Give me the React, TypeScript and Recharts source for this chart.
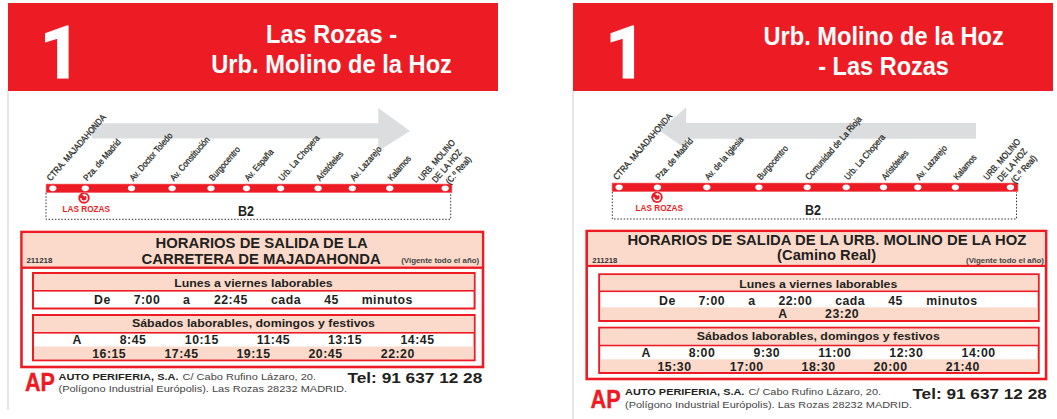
import { ReferenceArea, Scatter, ScatterChart, XAxis, YAxis } from "recharts";

const RED = "#ED1C24";
const PINK = "#FBDACB";
const GREY = "#DCDDDE";
const INK = "#231F20";
const SANS = "'Liberation Sans', Arial, sans-serif";
const NUMERAL = "Roboto, 'Liberation Sans', sans-serif";

// stops, position along the route band
const outboundStops = ["CTRA. MAJADAHONDA", "Pza. de Madrid", "Av. Doctor Toledo", "Av. Constitución", "Burgocentro", "Av. España", "Urb. La Chopera", "Aristóteles", "Av. Lazarejo", "Kalamos", "URB. MOLINO|DE LA HOZ|(C.º Real)"];
const outboundPos = [6.8, 39.3, 85.5, 126.1, 165, 200.5, 234.6, 272.1, 306.3, 343.8, 399.2];
const inboundStops = ["CTRA. MAJADAHONDA", "Pza. de Madrid", "Av. de la Iglesia", "Burgocentro", "Comunidad de La Rioja", "Urb. La Chopera", "Aristóteles", "Av. Lazarejo", "Kalamos", "URB. MOLINO|DE LA HOZ|(C.º Real)"];
const inboundPos = [7.1, 45.4, 94.8, 146.9, 195.2, 234.2, 271.5, 305.8, 343.4, 398.5];

const weekdayOut = ["De", "7:00", "a", "22:45", "cada", "45", "minutos"];
const weekendOut1 = ["A", "8:45", "10:15", "11:45", "13:15", "14:45"];
const weekendOut2 = ["16:15", "17:45", "19:15", "20:45", "22:20"];
const weekdayIn = ["De", "7:00", "a", "22:00", "cada", "45", "minutos"];
const weekdayIn2 = ["A", "23:20"];
const weekendIn1 = ["A", "8:00", "9:30", "11:00", "12:30", "14:00"];
const weekendIn2 = ["15:30", "17:00", "18:30", "20:00", "21:40"];

function T({ x, y, s, w, b = true, c = INK, a = "middle", f = SANS, children, heavy = 0 }: any) {
  return (
    <text x={x} y={y} fontSize={s} fontWeight={b ? 700 : 400} fill={c} textAnchor={a} fontFamily={f} textLength={w} lengthAdjust={w ? "spacingAndGlyphs" : undefined} stroke={heavy ? c : "none"} strokeWidth={heavy}>
      {children}
    </text>
  );
}

function Row({ xs, labels, y }: { xs: number[]; labels: string[]; y: number }) {
  return (
    <>
      {labels.map((l, i) => (
        <text key={i} x={xs[i]} y={y} fontSize={12.3} fontWeight={700} letterSpacing={0.5} fill={INK} textAnchor="middle" fontFamily={SANS}>
          {l}
        </text>
      ))}
    </>
  );
}

function StopTick({ x, payload, stops, pos }: any) {
  const i = pos.indexOf(payload.value);
  const lines: string[] = (stops[i] ?? "").split("|");
  const footY = 83.5;
  const dx = lines.length > 1 ? -23 : i === 0 ? -2 : 2;
  return (
    <g transform={`translate(${x + dx},${footY}) rotate(-49) scale(0.86,1)`}>
      {lines.map((line, k) => (
        <text key={k} x={k * 9} y={k * 11.5} fontSize={9} fill={INK} stroke={INK} strokeWidth={0.25} fontFamily={SANS}>
          {line}
        </text>
      ))}
    </g>
  );
}

function RouteChart({ left, top, stops, pos }: { left: number; top: number; stops: string[]; pos: number[] }) {
  const data = pos.map((p) => ({ p, y: 0.5 }));
  return (
    <div style={{ position: "absolute", left: left - 20, top }}>
      <ScatterChart width={480} height={94.7} margin={{ top: 0, right: 54, bottom: 0, left: 20 }}>
        <XAxis
          xAxisId={0}
          type="number"
          dataKey="p"
          orientation="top"
          height={86}
          domain={[0, 406]}
          ticks={pos}
          interval={0}
          axisLine={false}
          tickLine={false}
          tick={(props: any) => <StopTick {...props} stops={stops} pos={pos} />}
        />
        <YAxis yAxisId={0} type="number" dataKey="y" domain={[0, 1]} hide />
        <ReferenceArea x1={0} x2={406} y1={0} y2={1} fill={RED} fillOpacity={1} stroke="#F58A8E" strokeWidth={0.6} />
        <Scatter
          data={data}
          isAnimationActive={false}
          shape={(props: any) => <ellipse cx={props.cx} cy={props.cy} rx={3.6} ry={2.8} fill="#fff" />}
        />
      </ScatterChart>
    </div>
  );
}

function Terminus({ x, y, labelY }: { x: number; y: number; labelY: number }) {
  return (
    <>
      <circle cx={x} cy={y} r={5.7} fill={RED} />
      <path d={`M${x + 0.2} ${y - 3.2} A3.2 3.2 0 1 1 ${x - 3.2} ${y}`} fill="none" stroke="#fff" strokeWidth={1.3} />
      <path d={`M${x - 2} ${y - 3.2} L${x + 1} ${y - 1.2} L${x + 1} ${y - 4.6}Z`} fill="#fff" />
      <T x={x + 2.3} y={labelY} s={8.6} w={47.5} c={RED}>LAS ROZAS</T>
    </>
  );
}

export default function App() {
  return (
    <div style={{ position: "absolute", left: 0, top: 0, width: 1057, height: 419, overflow: "hidden", background: "#fff" }}>
      <svg width={1057} height={419} style={{ position: "absolute", left: 0, top: 0 }}>
        {/* left sheet */}
        <rect x={7.5} y={91} width={1} height={319} fill="#CFCFCF" />
        <rect x={8} y={3} width={490} height={88} fill={RED} />
        <T x={81} y={78.3} s={72} c="#fff" a="end" f={NUMERAL} heavy={1.2}>1</T>
        <T x={331.5} y={43.3} s={25} w={131} c="#fff">Las Rozas -</T>
        <T x={331.6} y={72.7} s={25} w={240.7} c="#fff">Urb. Molino de la Hoz</T>
        <path d="M92 123.3H378.3V108L410 131L378.3 151V138.6H92Z" fill={GREY} />
        <path d="M46 193V219.3H450.7V193" fill="none" stroke="#333" strokeWidth={1} strokeDasharray="1.5 1.7" />
        <Terminus x={84} y={198} labelY={211.7} />
        <T x={246} y={216} s={14} w={16}>B2</T>

        <rect x={21.5} y={232} width={461.5} height={135} fill="#fff" stroke={RED} strokeWidth={2.6} />
        <rect x={22.8} y={233.3} width={458.9} height={33.5} fill={PINK} />
        <rect x={21.5} y={266.5} width={461.5} height={2.4} fill={RED} />
        <T x={261.6} y={248} s={14} w={212}>HORARIOS DE SALIDA DE LA</T>
        <T x={261.1} y={264} s={14} w={239}>CARRETERA DE MAJADAHONDA</T>
        <T x={39.4} y={263} s={6.5} w={26} c="#333">211218</T>
        <T x={440.2} y={263} s={6.5} w={78} c="#444">(Vigente todo el año)</T>

        <rect x={33} y={273} width={441.6} height={35.5} fill="#fff" stroke={RED} strokeWidth={2} />
        <rect x={34} y={274} width={439.6} height={16} fill={PINK} />
        <rect x={33} y={290} width={441.6} height={1.6} fill={RED} />
        <T x={253.5} y={287} s={11.5} w={158.5}>Lunes a viernes laborables</T>
        <Row xs={[102.4, 147, 186.6, 230.9, 286, 331.6, 387.3]} labels={weekdayOut} y={304.3} />

        <rect x={33} y={315} width={441.6} height={45.3} fill="#fff" stroke={RED} strokeWidth={2} />
        <rect x={34} y={316} width={439.6} height={16} fill={PINK} />
        <rect x={33} y={332} width={441.6} height={1.6} fill={RED} />
        <rect x={34} y={346.5} width={439.6} height={12.8} fill={PINK} />
        <T x={253.5} y={327.3} s={11.5} w={243}>Sábados laborables, domingos y festivos</T>
        <Row xs={[77.1, 133.1, 201.8, 273.5, 345, 417.5]} labels={weekendOut1} y={344} />
        <Row xs={[109.2, 181.5, 253.5, 325.5, 397.8]} labels={weekendOut2} y={357.7} />

        <T x={40} y={391.3} s={25.5} w={30} c={RED} heavy={0.4}>AP</T>
        <T x={58.5} y={380} s={9.5} w={120} a="start">AUTO PERIFERIA, S.A.</T>
        <T x={182.5} y={380} s={9.5} w={133.5} a="start" b={false} c="#444">C/ Cabo Rufino Lázaro, 20.</T>
        <T x={58.5} y={392.3} s={9.5} w={288.6} a="start" b={false} c="#444">(Polígono Industrial Európolis). Las Rozas 28232 MADRID.</T>
        <T x={347.5} y={383.3} s={15.5} w={134.8} a="start">Tel: 91 637 12 28</T>

        {/* right sheet */}
        <rect x={572.5} y={91} width={1} height={328} fill="#CFCFCF" />
        <rect x={573} y={3} width={480} height={88} fill={RED} />
        <T x={646.5} y={78.3} s={72} c="#fff" a="end" f={NUMERAL} heavy={1.2}>1</T>
        <T x={883.6} y={45} s={25} w={240.3} c="#fff">Urb. Molino de la Hoz</T>
        <T x={883.6} y={75} s={25} w={130.7} c="#fff">- Las Rozas</T>
        <path d="M976 122.7H686.2V107.3L659.4 130.7L686.2 149V138.7H976Z" fill={GREY} />
        <path d="M612.3 192V219H1016.5V192" fill="none" stroke="#333" strokeWidth={1} strokeDasharray="1.5 1.7" />
        <Terminus x={657} y={197.3} labelY={211} />
        <T x={812.9} y={215} s={14} w={16}>B2</T>

        <rect x={586.7} y={231} width={459.4} height={148} fill="#fff" stroke={RED} strokeWidth={2.6} />
        <rect x={588} y={232.3} width={456.8} height={32.5} fill={PINK} />
        <rect x={586.7} y={264.8} width={459.4} height={2.2} fill={RED} />
        <T x={826.9} y={245} s={14} w={399}>HORARIOS DE SALIDA DE LA URB. MOLINO DE LA HOZ</T>
        <T x={826.6} y={260} s={14} w={99}>(Camino Real)</T>
        <T x={604.8} y={263.3} s={6.5} w={25.2} c="#333">211218</T>
        <T x={1005} y={263} s={6.5} w={78} c="#444">(Vigente todo el año)</T>

        <rect x={599.2} y={274.3} width={439.5} height={46.7} fill="#fff" stroke={RED} strokeWidth={2} />
        <rect x={600.2} y={275.3} width={437.5} height={15.7} fill={PINK} />
        <rect x={599.2} y={290.5} width={439.5} height={1.6} fill={RED} />
        <rect x={600.2} y={307.3} width={437.5} height={12.7} fill={PINK} />
        <T x={818.3} y={287.7} s={11.5} w={158}>Lunes a viernes laborables</T>
        <Row xs={[667.4, 711.8, 751.8, 795.4, 850.2, 895.6, 952]} labels={weekdayIn} y={304.7} />
        <Row xs={[783, 842.1]} labels={weekdayIn2} y={318.3} />

        <rect x={599.2} y={327.7} width={439.5} height={45.3} fill="#fff" stroke={RED} strokeWidth={2} />
        <rect x={600.2} y={328.7} width={437.5} height={16} fill={PINK} />
        <rect x={599.2} y={344.7} width={439.5} height={1.6} fill={RED} />
        <rect x={600.2} y={359.3} width={437.5} height={12.7} fill={PINK} />
        <T x={818.3} y={339.7} s={11.5} w={243}>Sábados laborables, domingos y festivos</T>
        <Row xs={[646.3, 702, 766.9, 834.8, 906.3, 978.6]} labels={weekendIn1} y={357} />
        <Row xs={[674.5, 746.7, 818.6, 890.5, 962.8]} labels={weekendIn2} y={370.7} />

        <T x={605.6} y={408.3} s={25.5} w={30.2} c={RED} heavy={0.4}>AP</T>
        <T x={625.1} y={395.3} s={9.5} w={119.3} a="start">AUTO PERIFERIA, S.A.</T>
        <T x={748.4} y={395.3} s={9.5} w={132.7} a="start" b={false} c="#444">C/ Cabo Rufino Lázaro, 20.</T>
        <T x={625.1} y={407.7} s={9.5} w={286.9} a="start" b={false} c="#444">(Polígono Industrial Európolis). Las Rozas 28232 MADRID.</T>
        <T x={912.4} y={399} s={15.5} w={134.4} a="start">Tel: 91 637 12 28</T>
      </svg>

      <RouteChart left={45.6} top={98} stops={outboundStops} pos={outboundPos} />
      <RouteChart left={612.3} top={97} stops={inboundStops} pos={inboundPos} />
    </div>
  );
}
